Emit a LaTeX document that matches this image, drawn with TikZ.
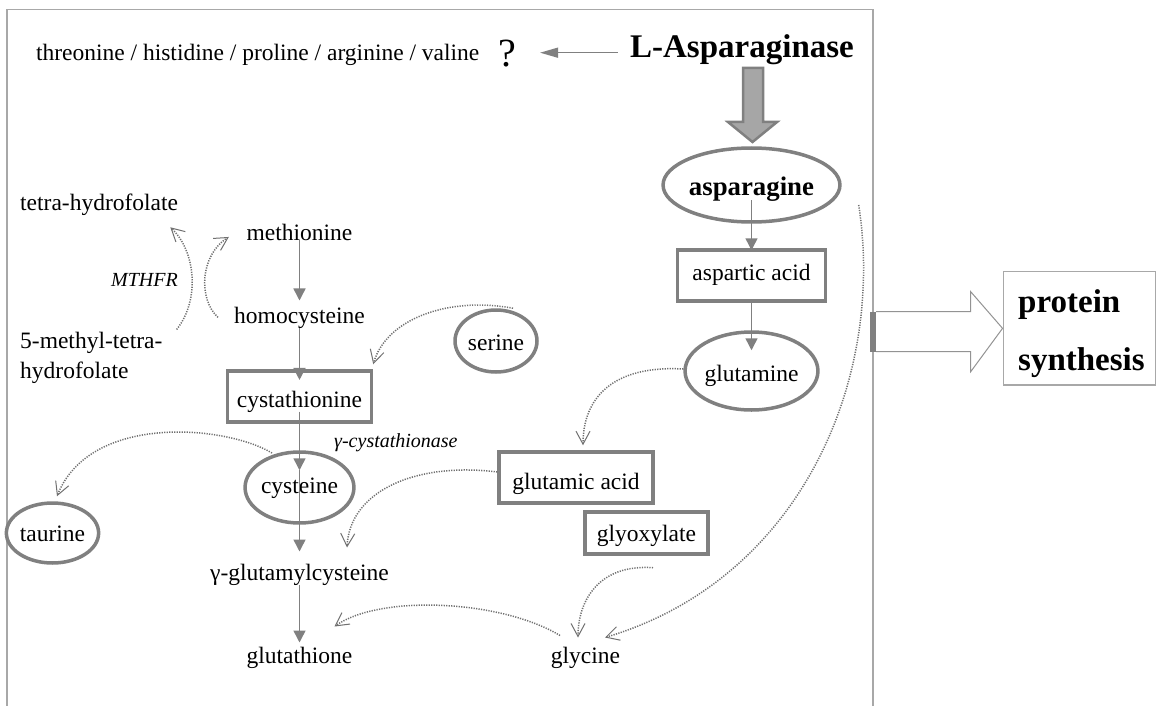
\documentclass[tikz,border=0pt]{standalone}
\usepackage{fontspec}
\setmainfont{Liberation Serif}
\usetikzlibrary{arrows.meta,shapes.geometric}
\definecolor{shp}{HTML}{808080}
\definecolor{dotc}{HTML}{707070}
\definecolor{frm}{HTML}{A8A8A8}
\definecolor{blkfill}{HTML}{A6A6A6}
\begin{document}
\begin{tikzpicture}[x=1pt,y=-1pt,
  txt/.style={inner sep=0pt, font=\fontsize{23.5}{28}\selectfont},
  lbl/.style={inner sep=0pt, font=\fontsize{20}{24}\selectfont\itshape},
  bigb/.style={inner sep=0pt, font=\fontsize{33}{38}\selectfont\bfseries},
  bx/.style={draw=shp, line width=3.5pt, rectangle, inner sep=0pt, text depth=2pt, font=\fontsize{23.5}{28}\selectfont},
  el/.style={draw=shp, line width=3.5pt, ellipse, inner sep=0pt, text depth=2pt, font=\fontsize{23.5}{28}\selectfont},
  sarr/.style={draw=shp, line width=1.5pt, -{Triangle[length=12pt,width=12pt]}},
  darr/.style={draw=dotc, line width=1.5pt, dash pattern=on 1.2pt off 1.3pt, -{Straight Barb[length=13pt,width=14pt,line width=1pt]}}
]
\useasboundingbox (0,0) rectangle (1156,706);
\fill[white] (0,0) rectangle (1156,706);
% frame
\draw[frm, line width=1.5pt] (7,706) -- (7,9.5) -- (873,9.5) -- (873,706);

% top row
\node[txt, anchor=base west] (thr) at (35.8,61) {threonine / histidine / proline / arginine / valine};
\node[inner sep=0pt, anchor=base, font=\fontsize{40}{44}\selectfont] (q) at (507,67) {?};
\node[bigb, anchor=base] (lasp) at (742,58) {L-Asparaginase};
\coordinate (la) at ([xshift=-12pt,yshift=-2.5pt]lasp.west);
\coordinate (qa) at ([xshift=24pt]q.east);
\draw[draw=shp, line width=1.5pt, -{Triangle[length=18pt,width=10pt]}] (la) -- (la -| qa);

% block arrow
\draw[draw=shp, fill=blkfill, line width=2.5pt] (743,68) -- (763,68) -- (763,122) -- (777,122) -- (752.5,142) -- (728,122) -- (743,122) -- cycle;

% right column
\node[el, minimum width=150pt, minimum height=74pt, text height=22pt, font=\fontsize{26.8}{30}\selectfont\bfseries] (asn) at (751.5,185) {asparagine};
\node[bx, minimum width=148pt, minimum height=51pt, text height=11pt] (asp) at (751.5,275.5) {aspartic acid};
\node[el, minimum width=122pt, minimum height=78pt, text height=23pt] (gln) at (751.5,371) {glutamine};
\node[bx, minimum width=154pt, minimum height=51pt, text height=26pt] (glu) at (576,477.5) {glutamic acid};
\node[bx, minimum width=123pt, minimum height=42pt, text height=19pt] (glx) at (646.5,533) {glyoxylate};
\node[txt, anchor=base] (gly) at (585.5,663) {glycine};

% left column
\node[txt, anchor=base west] (thf) at (20,210) {tetra-hydrofolate};
\node[txt, anchor=base west] (m5a) at (20,348) {5-methyl-tetra-};
\node[txt, anchor=base west] (m5b) at (20,378) {hydrofolate};
\node[lbl, anchor=base west] (mthfr) at (111,286) {MTHFR};
\node[txt, anchor=base] (meth) at (299.5,240) {methionine};
\node[txt, anchor=base] (homo) at (299.5,323) {homocysteine};
\node[el, minimum width=82pt, minimum height=62pt, text height=20pt] (ser) at (496,341) {serine};
\node[bx, minimum width=144pt, minimum height=51pt, text height=24pt] (cta) at (299.5,396.5) {cystathionine};
\node[lbl, anchor=base west] (gcase) at (334,447) {γ-cystathionase};
\node[el, minimum width=102pt, minimum height=71pt, text height=13pt] (cys) at (299.5,487.5) {cysteine};
\node[el, minimum width=91pt, minimum height=60pt, text height=19pt] (tau) at (52.5,533) {taurine};
\node[txt, anchor=base] (gglu) at (299.5,580) {γ-glutamylcysteine};
\node[txt, anchor=base] (gsh) at (299.5,663) {glutathione};

% protein synthesis
\node[draw=frm, line width=1.5pt, minimum width=152.7pt, minimum height=113.3pt, inner sep=0pt] (psb) at (1079.65,328.35) {};
\node[bigb, anchor=base west] (prot) at (1018,312) {protein};
\node[bigb, anchor=base west] (syn) at (1018,370) {synthesis};
\draw[draw=shp!85, line width=1pt] (876,311.7) -- (970.7,311.7) -- (970.7,291.7) -- (psb.west) -- (970.7,371.7) -- (970.7,351.7) -- (876,351.7);
\fill[shp] (870,311.7) rectangle (876,351.7);

% solid arrows
\draw[sarr] (meth.south) -- ([yshift=6pt]homo.north);
\draw[sarr] (homo.south) -- ([yshift=-10.7pt]cta.north);
\draw[sarr] ([yshift=-15pt]cta.center) -- ([yshift=-20pt]cys.north);
\draw[sarr] ([yshift=-20pt]cys.north) -- ([yshift=12pt]gglu.north);
\draw[sarr] (gglu.south) -- ([yshift=4pt]gsh.north);
\draw[sarr] ([yshift=-15pt]asn.center) -- ([yshift=-2pt]asp.north);
\draw[sarr] (asp.south) -- ([yshift=-20pt]gln.north);

% dotted arrows
\draw[darr] ([xshift=14pt,yshift=2pt]m5a.north east) .. controls +(24,-30) and +(25,23) .. ([xshift=-8pt,yshift=-12pt]thf.south east);
\draw[darr] ([xshift=-16pt]homo.west) .. controls +(-20,-18) and +(-29,18) .. ([xshift=-17.6pt,yshift=-5pt]meth.west);
\draw[darr] ([xshift=17pt]ser.north) .. controls +(-63,-12) and +(13,-46) .. ([yshift=5pt]cta.north east);
\draw[darr] ([xshift=-27.5pt,yshift=34.5pt]cys.center) .. controls +(-47,-28) and +(33,-83) .. ([xshift=4.5pt,yshift=5pt]tau.north);
\draw[darr] ([yshift=2pt]gln.west) .. controls +(-71,-4) and +(0,-47) .. ([xshift=7pt,yshift=5pt]glu.north);
\draw[darr] ([yshift=5.5pt]glu.west) .. controls +(-79,-10) and +(3,-58) .. ([xshift=47.5pt,yshift=16pt]gglu.north);
\draw[darr] ([xshift=6.5pt,yshift=-12pt]glx.south) .. controls +(-53,-4) and +(0,-38) .. ([xshift=-7.5pt,yshift=9pt]gly.north);
\draw[darr] ([xshift=17pt,yshift=-20pt]asn.east) .. controls +(27,175) and +(195,-58) .. ([xshift=19.5pt,yshift=9pt]gly.north);
\draw[darr] ([xshift=-25.5pt,yshift=11pt]gly.north) .. controls +(-60,-36) and +(45,-32) .. ([xshift=35pt,yshift=20pt]gsh.north);
\end{tikzpicture}
\end{document}
